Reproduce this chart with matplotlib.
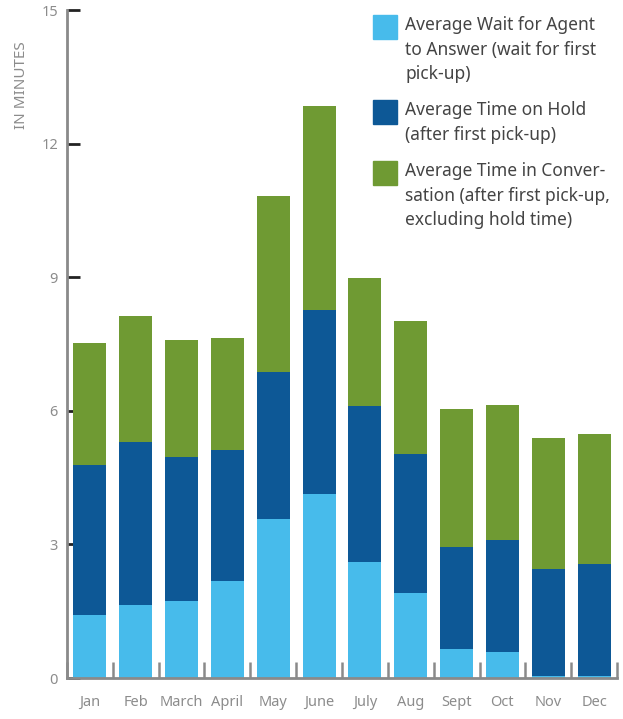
import matplotlib
matplotlib.use("Agg")
import matplotlib.pyplot as plt
from matplotlib.patches import Rectangle
import numpy as np

plt.rcParams['font.family'] = ['Noto Sans', 'DejaVu Sans']

months = ["Jan", "Feb", "March", "April", "May", "June",
          "July", "Aug", "Sept", "Oct", "Nov", "Dec"]
# minutes per stage (stacked bottom to top)
wait_answer = [1.41, 1.65, 1.72, 2.17, 3.56, 4.14, 2.60, 1.90, 0.64, 0.58, 0.04, 0.04]
on_hold = [3.38, 3.64, 3.25, 2.94, 3.32, 4.13, 3.51, 3.12, 2.31, 2.53, 2.40, 2.53]
conversation = [2.73, 2.83, 2.63, 2.53, 3.95, 4.58, 2.88, 3.00, 3.10, 3.01, 2.96, 2.92]
labels = ["Average Wait for Agent\nto Answer (wait for first\npick-up)",
          "Average Time on Hold\n(after first pick-up)",
          "Average Time in Conver-\nsation (after first pick-up,\nexcluding hold time)"]
colors = ["#47BBEB", "#0D5896", "#6F9A33"]
yticks = [0, 3, 6, 9, 12, 15]

fig = plt.figure(figsize=(6.23, 7.19), dpi=100)
ax = fig.add_axes([67/623, 1-678/719, 550/623, 668/719])

x = np.arange(len(months))
bottom = np.zeros(len(months))
for vals, c in zip([wait_answer, on_hold, conversation], colors):
    ax.bar(x, vals, width=0.72, bottom=bottom, color=c, zorder=2)
    bottom += np.array(vals)

ax.set_xlim(-0.5, len(months) - 0.5)
ax.set_ylim(0, 15)
ax.set_yticks(yticks)
ax.set_xticks(x)
ax.set_xticklabels(months)
ax.set_xticks(np.arange(-0.5, len(months)), minor=True)

for s in ["top", "right"]:
    ax.spines[s].set_visible(False)
for s in ["left", "bottom"]:
    ax.spines[s].set_color("#8a8a8a")
    ax.spines[s].set_linewidth(2)
    ax.spines[s].set_zorder(3)

ax.tick_params(axis="y", direction="in", length=9.5, width=2, color="#222222",
               labelsize=10.5, labelcolor="#8c8c8c", pad=6.5)
ax.tick_params(axis="x", which="major", length=0, labelsize=10.5,
               labelcolor="#8c8c8c", pad=12)
ax.tick_params(axis="x", which="minor", direction="in", length=11.5, width=1.8,
               color="#8a8a8a")

fig.text(22/623, 1-85/719, "IN MINUTES", rotation=90, ha="center", va="center",
         fontsize=11, color="#8c8c8c")

# legend drawn by hand so the swatch lines up with the first text line
tops = [15, 100, 161]
for lab, c, t in zip(labels, colors, tops):
    fig.patches.append(Rectangle((373/623, 1-(t+24)/719), 24/623, 24/719,
                                 transform=fig.transFigure, color=c))
    fig.text(405/623, 1-(t+1)/719, lab, ha="left", va="top", fontsize=12.5,
             color="#444444", linespacing=1.48)

fig.savefig("out.png", dpi=100)
